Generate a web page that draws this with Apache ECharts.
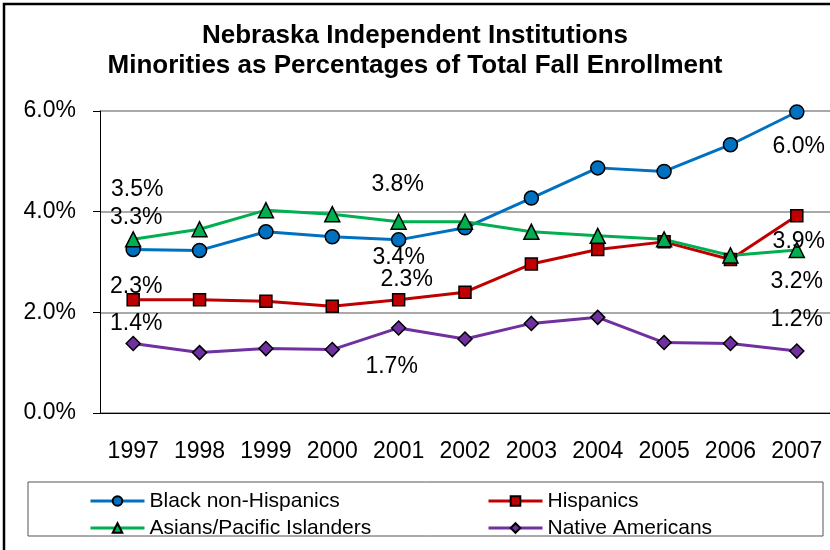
<!DOCTYPE html>
<html>
<head>
<meta charset="utf-8">
<script src="https://cdn.jsdelivr.net/npm/echarts@6/dist/echarts.min.js"></script>
<style>
    html, body {margin: 0; padding: 0; background: #fff;}
    #chart {width: 830px; height: 550px;}
</style>
</head>
<body>
<div id="chart"></div>
<script>
var years = ['1997', '1998', '1999', '2000', '2001', '2002', '2003', '2004', '2005', '2006', '2007'];
var black = [3.25, 3.23, 3.6, 3.5, 3.44, 3.68, 4.27, 4.87, 4.8, 5.33, 5.98];
var hispanics = [2.25, 2.25, 2.22, 2.12, 2.25, 2.4, 2.96, 3.25, 3.4, 3.05, 3.92];
var asians = [3.45, 3.65, 4.03, 3.95, 3.8, 3.8, 3.6, 3.52, 3.45, 3.13, 3.24];
var natives = [1.38, 1.2, 1.28, 1.26, 1.69, 1.47, 1.78, 1.9, 1.4, 1.38, 1.23];
var names = ['Black non-Hispanics', 'Hispanics', 'Asians/Pacific Islanders', 'Native Americans'];

// labels shown only on 1997, 2001, 2007 ; offsets from the point
var labelOffsets = {
    black: {0: [3, -32], 4: [0, 18], 10: [2, 35]},
    hispanics: {0: [3, -13], 4: [8, -20], 10: [2, 26]},
    asians: {0: [4, -50], 4: [-1, -37], 10: [0, 32]},
    natives: {0: [3, -20], 4: [-7, 39], 10: [0, -31]}
};

var FONT = 'Liberation Sans, Arial';

function makeData(arr, offs) {
    var out = [];
    for (var i = 0; i < arr.length; i++) {
        var item = {value: arr[i]};
        if (offs[i]) {
            item.label = {
                show: true,
                position: 'inside',
                offset: offs[i],
                formatter: arr[i].toFixed(1) + '%',
                fontFamily: FONT,
                fontSize: 23,
                color: '#000'
            };
        }
        out.push(item);
    }
    return out;
}

function makeSeries(name, arr, offs, color, symbol, size) {
    return {
        name: name,
        type: 'line',
        data: makeData(arr, offs),
        symbol: symbol,
        symbolSize: size,
        showAllSymbol: true,
        lineStyle: {color: color, width: 3},
        itemStyle: {color: color, borderColor: '#000', borderWidth: 1.5},
        emphasis: {disabled: true}
    };
}

var legendText = {fontFamily: FONT, fontSize: 21, color: '#000', lineHeight: 24};

var myChart = echarts.init(document.getElementById('chart'));

var option = {
    animation: false,
    title: {
        text: 'Nebraska Independent Institutions\nMinorities as Percentages of Total Fall Enrollment',
        left: 'center',
        top: 16,
        textStyle: {fontFamily: FONT, fontSize: 26, fontWeight: 'bold', color: '#000', lineHeight: 30}
    },
    graphic: [
        {type: 'rect', silent: true, shape: {x: 4, y: 4, width: 840, height: 560},
            style: {fill: 'none', stroke: '#000', lineWidth: 2.5}},
        {type: 'rect', silent: true, shape: {x: 28, y: 482, width: 795, height: 54},
            style: {fill: 'none', stroke: '#555', lineWidth: 1}}
    ],
    legend: [
        {
            data: [names[0], names[2]],
            orient: 'vertical',
            left: 84, top: 484,
            itemWidth: 54, itemHeight: 12, itemGap: 3,
            lineStyle: {width: 3},
            textStyle: legendText
        },
        {
            data: [names[1], names[3]],
            orient: 'vertical',
            left: 482, top: 484,
            itemWidth: 54, itemHeight: 12, itemGap: 3,
            lineStyle: {width: 3},
            textStyle: legendText
        }
    ],
    grid: {left: 100, right: -1, top: 111, bottom: 137},
    xAxis: {
        type: 'category',
        data: years,
        axisLine: {lineStyle: {color: '#000', width: 1}},
        axisTick: {show: false},
        axisLabel: {fontFamily: FONT, fontSize: 23, color: '#000', margin: 27, interval: 0}
    },
    yAxis: {
        type: 'value',
        min: 0, max: 6, interval: 2,
        axisLine: {show: true, lineStyle: {color: '#000', width: 1}},
        axisTick: {show: true, inside: false, length: 7, lineStyle: {color: '#000'}},
        splitLine: {lineStyle: {color: '#8c8c8c', width: 1.5}},
        axisLabel: {
            fontFamily: FONT, fontSize: 23, color: '#000', margin: 24,
            formatter: function (v) { return v.toFixed(1) + '%'; }
        }
    },
    series: [
        makeSeries(names[0], black, labelOffsets.black, '#0070C0', 'circle', 14),
        makeSeries(names[1], hispanics, labelOffsets.hispanics, '#C00000', 'rect', 12),
        makeSeries(names[2], asians, labelOffsets.asians, '#00B050', 'triangle', 15),
        makeSeries(names[3], natives, labelOffsets.natives, '#7030A0', 'diamond', 14)
    ]
};

myChart.setOption(option);
</script>
</body>
</html>
